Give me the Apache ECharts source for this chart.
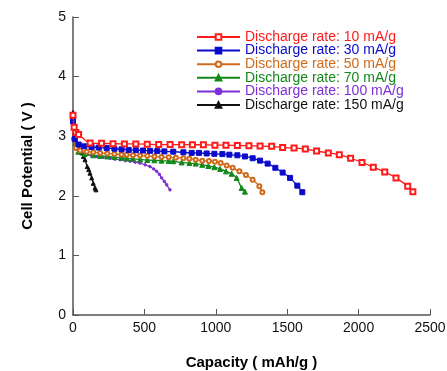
<!DOCTYPE html>
<html>
<head>
<meta charset="utf-8">
<script src="https://cdn.jsdelivr.net/npm/echarts@6/dist/echarts.min.js"></script>
<style>
  html, body { margin: 0; padding: 0; background: #fff; }
  #chart { width: 447px; height: 371px; }
</style>
</head>
<body>
<div id="chart"></div>
<script>
const seriesNames = [
  'Discharge rate: 10 mA/g',
  'Discharge rate: 30 mA/g',
  'Discharge rate: 50 mA/g',
  'Discharge rate: 70 mA/g',
  'Discharge rate: 100 mA/g',
  'Discharge rate: 150 mA/g'
];

const cap10 = [0, 8, 20, 39, 120, 200, 280, 360, 440, 520, 600, 680, 761, 836, 913, 994, 1071, 1151, 1232, 1310, 1391, 1468, 1548, 1627, 1706, 1788, 1865, 1944, 2024, 2103, 2183, 2262, 2344, 2380];
const v10 = [3.35, 3.15, 3.06, 3.03, 2.885, 2.88, 2.875, 2.87, 2.87, 2.865, 2.86, 2.86, 2.857, 2.857, 2.855, 2.85, 2.85, 2.846, 2.838, 2.835, 2.83, 2.81, 2.80, 2.785, 2.75, 2.72, 2.69, 2.63, 2.56, 2.48, 2.40, 2.30, 2.16, 2.07];

const cap30 = [0, 12, 40, 79, 130, 180, 236, 290, 340, 390, 440, 490, 540, 590, 640, 702, 773, 831, 882, 936, 990, 1046, 1095, 1151, 1204, 1258, 1310, 1363, 1417, 1468, 1520, 1571, 1606];
const v30 = [3.25, 2.95, 2.86, 2.83, 2.82, 2.81, 2.80, 2.79, 2.78, 2.77, 2.765, 2.76, 2.755, 2.75, 2.745, 2.74, 2.73, 2.72, 2.72, 2.71, 2.705, 2.70, 2.69, 2.68, 2.66, 2.63, 2.59, 2.54, 2.47, 2.39, 2.30, 2.17, 2.06];

const cap50 = [0, 10, 21, 50, 96, 142, 190, 240, 290, 340, 376, 420, 470, 520, 570, 620, 670, 720, 773, 815, 859, 905, 952, 994, 1034, 1076, 1118, 1165, 1211, 1258, 1305, 1326];
const v50 = [3.3, 2.95, 2.80, 2.76, 2.74, 2.73, 2.72, 2.71, 2.70, 2.695, 2.69, 2.68, 2.675, 2.67, 2.66, 2.65, 2.645, 2.64, 2.63, 2.62, 2.605, 2.59, 2.585, 2.57, 2.55, 2.51, 2.47, 2.41, 2.35, 2.27, 2.16, 2.06];

const cap70 = [0, 8, 16, 37, 80, 142, 190, 240, 290, 340, 376, 420, 470, 520, 570, 620, 670, 702, 761, 815, 859, 905, 948, 990, 1030, 1071, 1111, 1146, 1181, 1204];
const v70 = [3.3, 3.0, 2.885, 2.74, 2.70, 2.68, 2.67, 2.66, 2.65, 2.64, 2.63, 2.62, 2.61, 2.60, 2.595, 2.59, 2.585, 2.58, 2.56, 2.55, 2.54, 2.52, 2.50, 2.48, 2.45, 2.41, 2.37, 2.30, 2.13, 2.07];

const cap100 = [0, 8, 26, 49, 96, 130, 166, 210, 259, 295, 329, 365, 400, 435, 469, 505, 539, 565, 586, 605, 621, 640, 656, 679];
const v100 = [3.35, 3.0, 2.80, 2.745, 2.69, 2.675, 2.66, 2.645, 2.63, 2.615, 2.605, 2.59, 2.58, 2.565, 2.55, 2.52, 2.49, 2.45, 2.41, 2.36, 2.30, 2.24, 2.185, 2.10];

const cap150 = [0, 4, 10, 18, 26, 40, 61, 73, 84, 100, 110, 119, 131, 142, 154, 161];
const v150 = [3.4, 3.15, 3.05, 2.95, 2.857, 2.80, 2.72, 2.66, 2.605, 2.49, 2.44, 2.38, 2.30, 2.21, 2.13, 2.10];

const xTicks = [0, 500, 1000, 1500, 2000, 2500];
const yTicks = [0, 1, 2, 3, 4, 5];

const caps = [cap10, cap30, cap50, cap70, cap100, cap150];
const volts = [v10, v30, v50, v70, v100, v150];
const colors = ['#ff1a1a', '#0a0acc', '#d06a1a', '#13881a', '#7d30d6', '#111111'];
const symbols = ['emptyRect', 'rect', 'emptyCircle', 'triangle', 'circle', 'triangle'];
const symbolSizes = [5, 5, 4, 5, 2.5, 4];

const chart = echarts.init(document.getElementById('chart'));

const series = seriesNames.map((name, i) => ({
  name: name,
  type: 'line',
  data: caps[i].map((c, j) => [c, volts[i][j]]),
  symbol: symbols[i],
  symbolSize: symbolSizes[i],
  showAllSymbol: true,
  smooth: 0.2,
  color: colors[i],
  lineStyle: { width: 1.3, color: colors[i] },
  itemStyle: { color: colors[i], borderColor: colors[i], borderWidth: 1 },
  z: 10 - i,
  animation: false
}));

chart.setOption({
  backgroundColor: '#fff',
  animation: false,
  grid: { left: 73, right: 17, top: 17, bottom: 56, outerBoundsMode: 'none', containLabel: false },
  legend: {
    orient: 'vertical',
    left: 191,
    top: 25,
    itemWidth: 43,
    itemHeight: 7,
    itemGap: -0.4,
    textStyle: { fontFamily: 'Liberation Sans', fontSize: 14, lineHeight: 12 },
    data: seriesNames.map((n, i) => ({ name: n, textStyle: { color: colors[i] } }))
  },
  xAxis: {
    type: 'value',
    min: 0,
    max: 2500,
    interval: 500,
    name: 'Capacity ( mAh/g )',
    nameLocation: 'middle',
    nameGap: 40,
    nameTextStyle: { fontFamily: 'Liberation Sans', fontSize: 15, fontWeight: 'bold', color: '#000' },
    axisLine: { lineStyle: { color: '#555', width: 1.5 } },
    axisTick: { inside: true, length: 6, lineStyle: { color: '#555' } },
    axisLabel: {
      fontFamily: 'Liberation Sans', fontSize: 14, color: '#111', margin: 6,
      formatter: v => xTicks.includes(v) ? String(v) : ''
    },
    splitLine: { show: false }
  },
  yAxis: {
    type: 'value',
    min: 0,
    max: 5,
    interval: 1,
    name: 'Cell Potential ( V )',
    nameLocation: 'middle',
    nameGap: 38,
    nameRotate: 90,
    nameTextStyle: { fontFamily: 'Liberation Sans', fontSize: 15, fontWeight: 'bold', color: '#000' },
    axisLine: { show: true, lineStyle: { color: '#555', width: 1.5 } },
    axisTick: { show: true, inside: true, length: 6, lineStyle: { color: '#555' } },
    axisLabel: {
      fontFamily: 'Liberation Sans', fontSize: 14, color: '#111', margin: 7,
      formatter: v => yTicks.includes(v) ? String(v) : ''
    },
    splitLine: { show: false }
  },
  series: series
});
</script>
</body>
</html>
